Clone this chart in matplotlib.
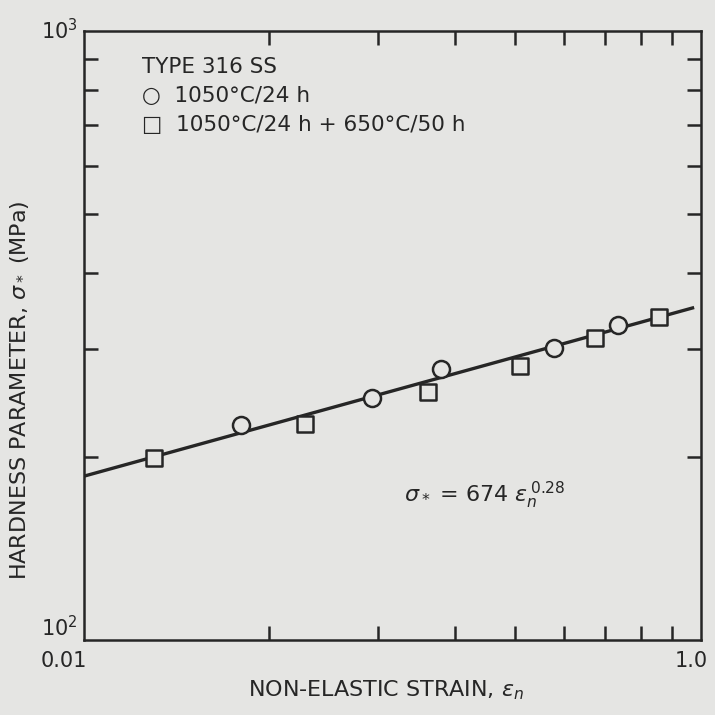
import numpy as np
import matplotlib
matplotlib.use("Agg")
import matplotlib.pyplot as plt
from matplotlib.ticker import NullFormatter

# data
strain_circle = [0.0180, 0.0293, 0.0379, 0.0578, 0.0735]
sigma_circle = [225, 250, 278, 302, 329]
strain_square = [0.0130, 0.0228, 0.0362, 0.0510, 0.0675, 0.0857]
sigma_square = [199, 226, 255, 282, 313, 339]

fit_coef = 674
fit_exp = 0.28
fit_range = [0.01, 0.097]

bg = "#e5e5e3"
ink = "#262626"

fig = plt.figure(figsize=(7.15, 7.15), dpi=100, facecolor=bg)
ax = fig.add_axes([0.117, 0.105, 0.863, 0.852], facecolor=bg)

ax.set_xscale("log")
ax.set_yscale("log")
ax.set_xlim(0.01, 0.1)
ax.set_ylim(100, 1000)

# fitted power law
xf = np.logspace(np.log10(fit_range[0]), np.log10(fit_range[1]), 50)
ax.plot(xf, fit_coef * xf ** fit_exp, color=ink, lw=2.4, zorder=2)

ax.scatter(strain_circle, sigma_circle, marker="o", s=150, facecolors=bg,
           edgecolors=ink, linewidths=1.8, zorder=3)
ax.scatter(strain_square, sigma_square, marker="s", s=130, facecolors=bg,
           edgecolors=ink, linewidths=1.8, zorder=3)

# ticks: inward on all sides, no labels from the locator
for s in ax.spines.values():
    s.set_linewidth(1.8)
    s.set_color(ink)
ax.set_xticks([0.01, 0.1])
ax.set_yticks([100, 1000])
ax.set_xticks([k * 0.01 for k in range(2, 10)], minor=True)
ax.set_yticks([k * 100 for k in range(2, 10)], minor=True)
ax.tick_params(which="major", length=0, labelbottom=False, labelleft=False)
ax.tick_params(which="minor", direction="in", length=10, width=1.8, color=ink,
               top=True, right=True)
ax.xaxis.set_minor_formatter(NullFormatter())
ax.yaxis.set_minor_formatter(NullFormatter())

tfont = dict(color=ink, fontsize=15, family="DejaVu Sans")
ax.text(-0.01, 0.0, r"10$^2$", transform=ax.transAxes, ha="right", va="bottom", **tfont)
ax.text(-0.01, 1.0, r"10$^3$", transform=ax.transAxes, ha="right", va="center", **tfont)
ax.text(-0.07, -0.018, "0.01", transform=ax.transAxes, ha="left", va="top", **tfont)
ax.text(0.985, -0.018, "1.0", transform=ax.transAxes, ha="center", va="top", **tfont)

ax.set_xlabel(r"NON-ELASTIC STRAIN, $\epsilon_n$", fontsize=16, color=ink)
ax.xaxis.set_label_coords(0.49, -0.063)
ax.set_ylabel(r"HARDNESS PARAMETER, $\sigma_*$ (MPa)", fontsize=16, color=ink)
ax.yaxis.set_label_coords(-0.085, 0.41)

# legend block written as text, like the original figure
lfont = dict(transform=ax.transAxes, fontsize=15.5, color=ink, va="center")
ax.text(0.095, 0.94, "TYPE 316 SS", **lfont)
ax.text(0.095, 0.893, "○  1050°C/24 h", **lfont)
ax.text(0.095, 0.846, "□  1050°C/24 h + 650°C/50 h", **lfont)

ax.text(0.033, 168, r"$\sigma_*$ = 674 $\epsilon_n^{\,0.28}$", fontsize=16, color=ink,
        va="baseline")

fig.savefig("out.png", dpi=100, facecolor=bg)
